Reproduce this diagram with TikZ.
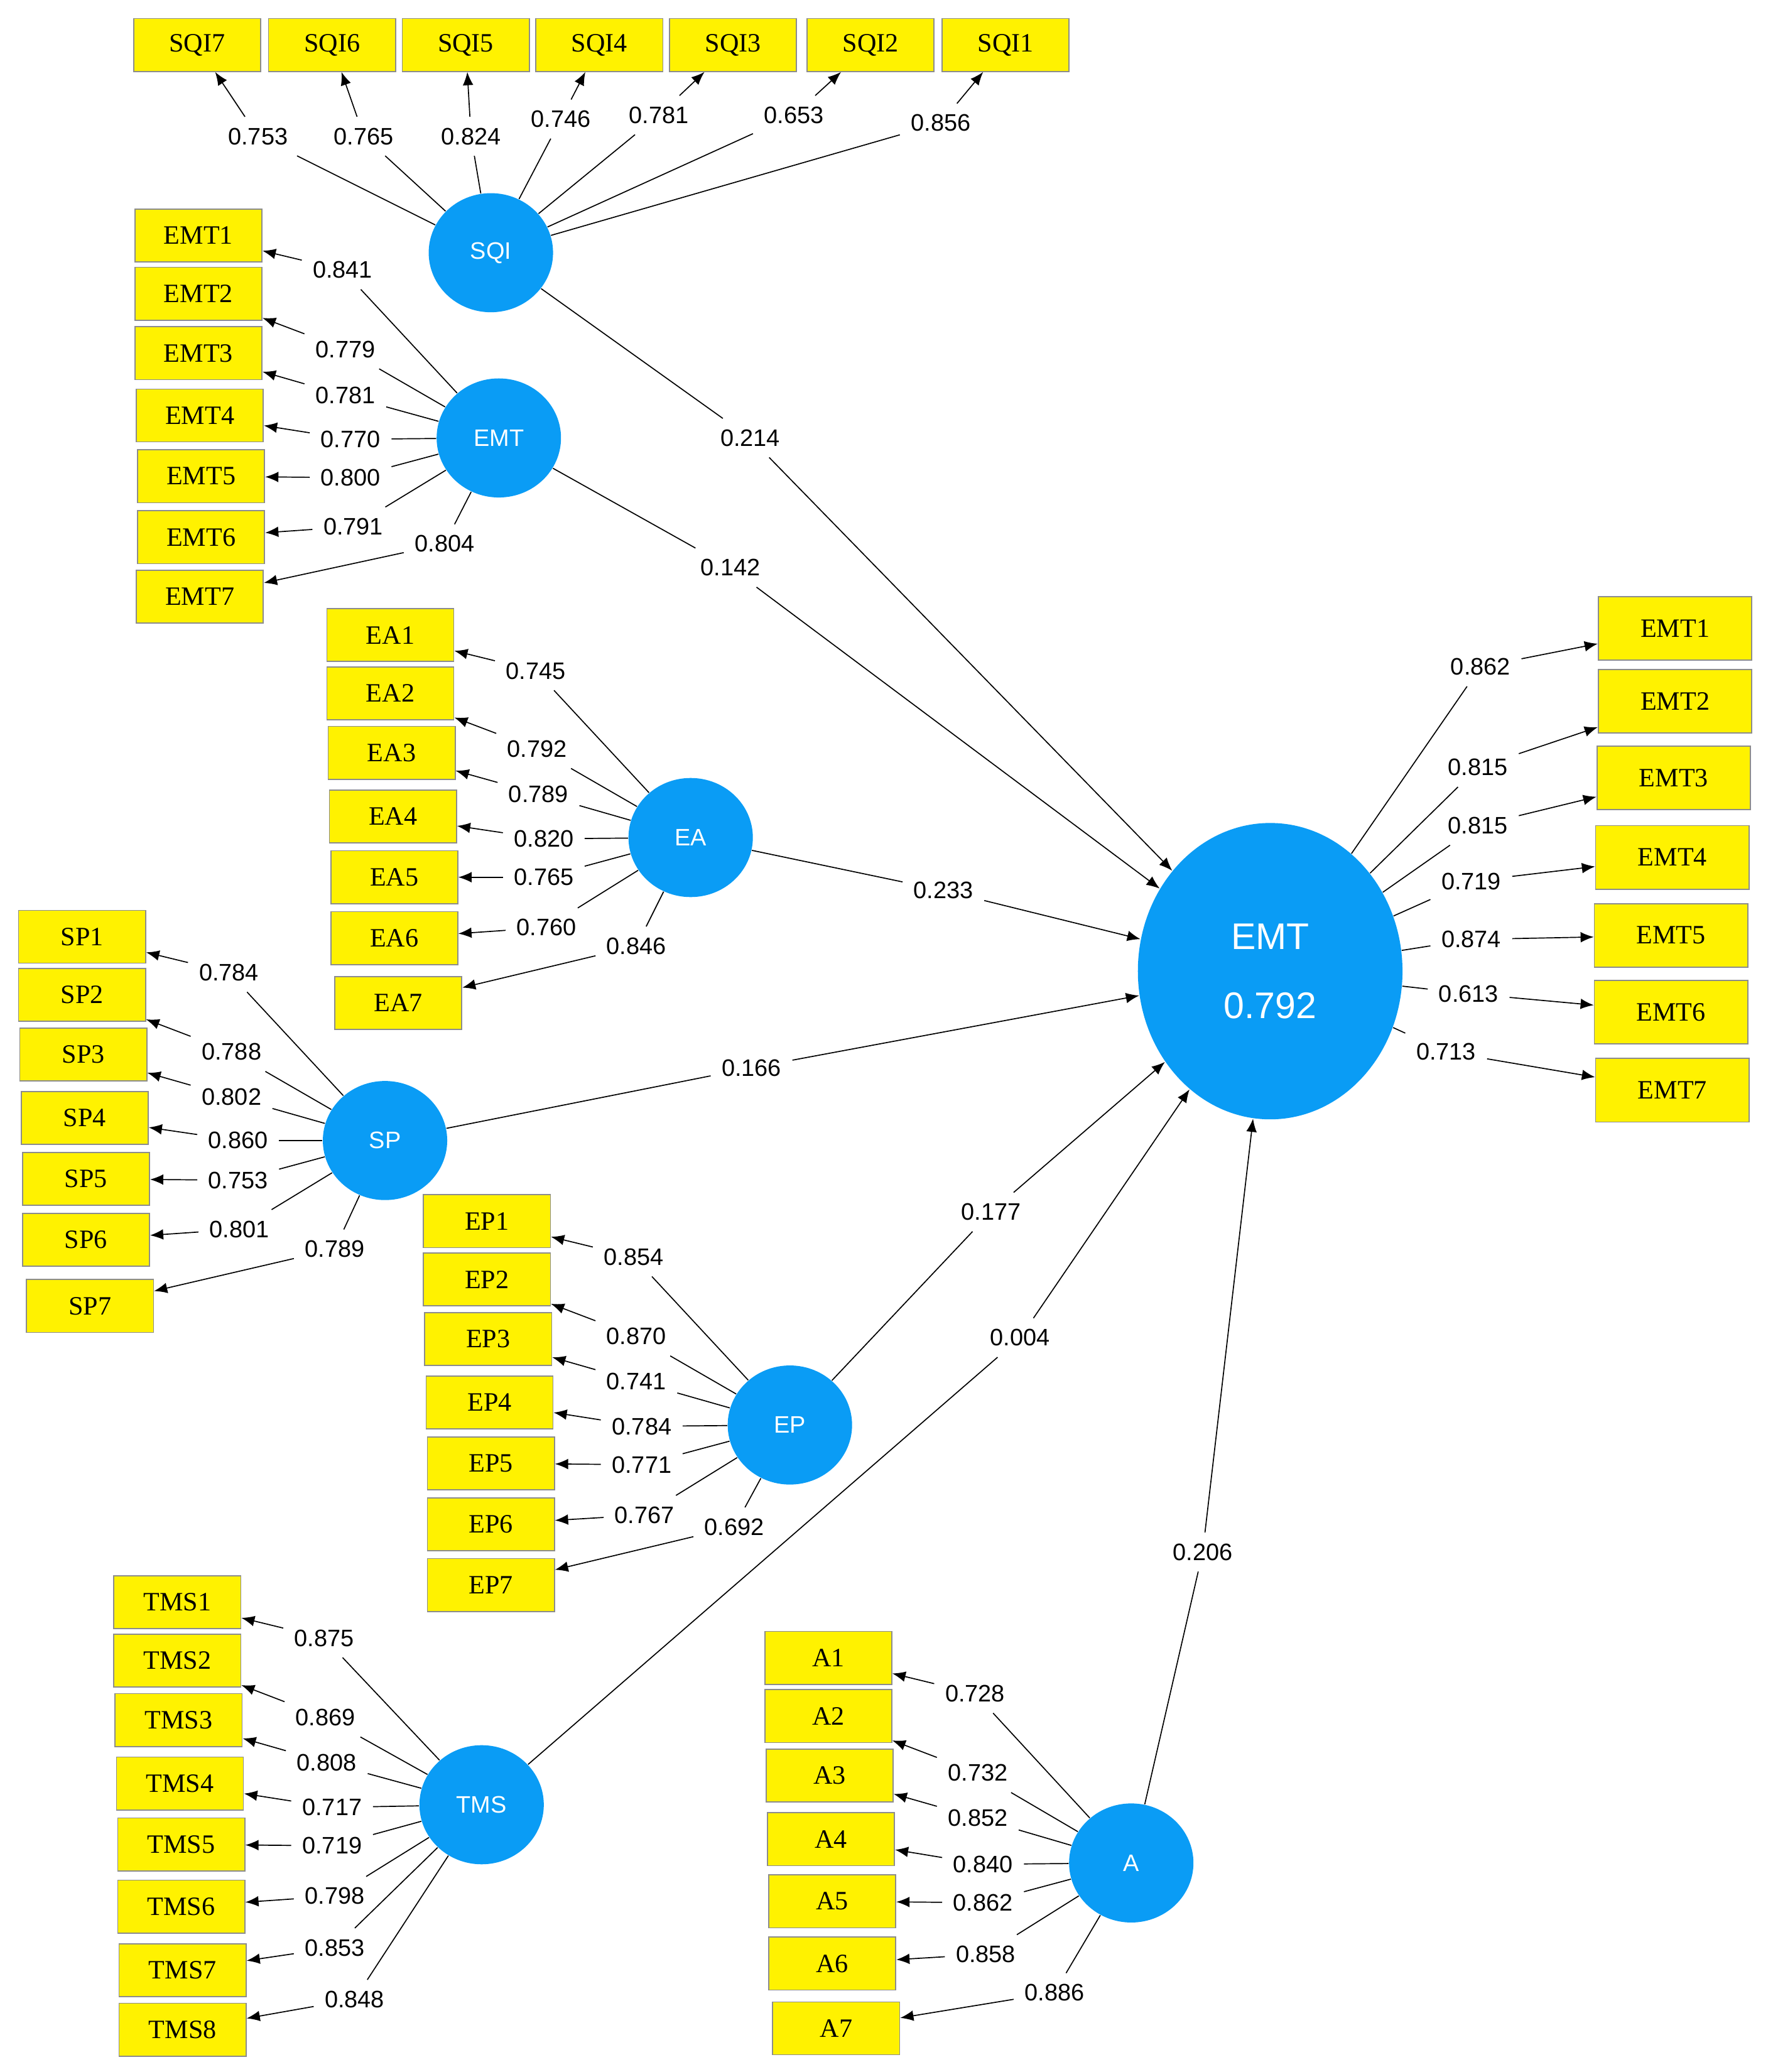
\documentclass[tikz,border=0pt]{standalone}
\usepackage{fontspec}
\setmainfont{Liberation Serif}
\newfontfamily\sansf{Liberation Sans}
\usetikzlibrary{shapes.geometric,arrows.meta}
\definecolor{lv}{HTML}{0A9CF5}
\tikzset{
 box/.style={draw=black!45,fill=yellow,minimum width=48pt,minimum height=20pt,inner sep=1pt,font=\fontsize{10}{12}\selectfont},
 rbox/.style={box,minimum width=58pt,minimum height=24pt},
 lat/.style={ellipse,fill=lv,minimum width=47pt,minimum height=45pt,text=white,font=\sansf\fontsize{9}{11}\selectfont,inner sep=0pt},
 lab/.style={font=\sansf\fontsize{9}{11}\selectfont,inner sep=4pt},
 arr/.style={-{Latex[length=5pt,width=4pt]}},
 every path/.style={line width=0.4pt}
}
\newcommand\indic[7]{%
 \node[#7] (#2) at (#4) {#3};
 \node[lab] (#2l) at (#5) {#6};
 \draw (#1) -- (#2l);
 \draw[arr] (#2l) -- (#2);
}
\newcommand\strpath[4]{%
 \node[lab] (#1l) at (#3) {#4};
 \draw (#1) -- (#1l);
 \draw[arr] (#1l) -- (#2);
}
\begin{document}
\begin{tikzpicture}[x=0.5pt,y=-0.5pt]
\useasboundingbox (0,0) rectangle (1340,1566);
\node[lat] (SQI) at (371,191) {SQI};
\node[lat] (EMTa) at (377,331) {EMT};
\node[lat] (EA) at (522,633) {EA};
\node[lat] (SP) at (291,862) {SP};
\node[lat] (EP) at (597,1077) {EP};
\node[lat] (TMS) at (364,1364) {TMS};
\node[lat] (A) at (855,1408) {A};
\node[ellipse,fill=lv,minimum width=100pt,minimum height=112pt,text=white,font=\sansf\fontsize{14}{26}\selectfont,align=center] (EMT) at (960,734) {EMT\\0.792};
% SQI
\indic{SQI}{q7}{SQI7}{149,34}{195,103}{0.753}{box}
\indic{SQI}{q6}{SQI6}{251,34}{275,103}{0.765}{box}
\indic{SQI}{q5}{SQI5}{352,34}{356,103}{0.824}{box}
\indic{SQI}{q4}{SQI4}{453,34}{424,90}{0.746}{box}
\indic{SQI}{q3}{SQI3}{554,34}{498,87}{0.781}{box}
\indic{SQI}{q2}{SQI2}{658,34}{600,87}{0.653}{box}
\indic{SQI}{q1}{SQI1}{760,34}{711,93}{0.856}{box}
% EMT left
\indic{EMTa}{m1}{EMT1}{150,178}{259,204}{0.841}{box}
\indic{EMTa}{m2}{EMT2}{150,222}{261,264}{0.779}{box}
\indic{EMTa}{m3}{EMT3}{150,267}{261,299}{0.781}{box}
\indic{EMTa}{m4}{EMT4}{151,314}{265,332}{0.770}{box}
\indic{EMTa}{m5}{EMT5}{152,360}{265,361}{0.800}{box}
\indic{EMTa}{m6}{EMT6}{152,406}{267,398}{0.791}{box}
\indic{EMTa}{m7}{EMT7}{151,451}{336,411}{0.804}{box}
% EA
\indic{EA}{a1}{EA1}{295,480}{405,507}{0.745}{box}
\indic{EA}{a2}{EA2}{295,524}{406,566}{0.792}{box}
\indic{EA}{a3}{EA3}{296,569}{407,600}{0.789}{box}
\indic{EA}{a4}{EA4}{297,617}{411,634}{0.820}{box}
\indic{EA}{a5}{EA5}{298,663}{411,663}{0.765}{box}
\indic{EA}{a6}{EA6}{298,709}{413,701}{0.760}{box}
\indic{EA}{a7}{EA7}{301,758}{481,715}{0.846}{box}
% SP
\indic{SP}{s1}{SP1}{62,708}{173,735}{0.784}{box}
\indic{SP}{s2}{SP2}{62,752}{175,795}{0.788}{box}
\indic{SP}{s3}{SP3}{63,797}{175,829}{0.802}{box}
\indic{SP}{s4}{SP4}{64,845}{180,862}{0.860}{box}
\indic{SP}{s5}{SP5}{65,891}{180,892}{0.753}{box}
\indic{SP}{s6}{SP6}{65,937}{181,929}{0.801}{box}
\indic{SP}{s7}{SP7}{68,987}{253,944}{0.789}{box}
% EP
\indic{EP}{e1}{EP1}{368,923}{479,950}{0.854}{box}
\indic{EP}{e2}{EP2}{368,967}{481,1010}{0.870}{box}
\indic{EP}{e3}{EP3}{369,1012}{481,1044}{0.741}{box}
\indic{EP}{e4}{EP4}{370,1060}{485,1078}{0.784}{box}
\indic{EP}{e5}{EP5}{371,1106}{485,1107}{0.771}{box}
\indic{EP}{e6}{EP6}{371,1152}{487,1145}{0.767}{box}
\indic{EP}{e7}{EP7}{371,1198}{555,1154}{0.692}{box}
% TMS
\indic{TMS}{t1}{TMS1}{134,1211}{245,1238}{0.875}{box}
\indic{TMS}{t2}{TMS2}{134,1255}{246,1298}{0.869}{box}
\indic{TMS}{t3}{TMS3}{135,1300}{247,1332}{0.808}{box}
\indic{TMS}{t4}{TMS4}{136,1348}{251,1366}{0.717}{box}
\indic{TMS}{t5}{TMS5}{137,1394}{251,1395}{0.719}{box}
\indic{TMS}{t6}{TMS6}{137,1441}{253,1433}{0.798}{box}
\indic{TMS}{t7}{TMS7}{138,1489}{253,1472}{0.853}{box}
\indic{TMS}{t8}{TMS8}{138,1534}{268,1511}{0.848}{box}
% A
\indic{A}{b1}{A1}{626,1253}{737,1280}{0.728}{box}
\indic{A}{b2}{A2}{626,1297}{739,1340}{0.732}{box}
\indic{A}{b3}{A3}{627,1342}{739,1374}{0.852}{box}
\indic{A}{b4}{A4}{628,1390}{743,1409}{0.840}{box}
\indic{A}{b5}{A5}{629,1437}{743,1438}{0.862}{box}
\indic{A}{b6}{A6}{629,1484}{745,1477}{0.858}{box}
\indic{A}{b7}{A7}{632,1533}{797,1506}{0.886}{box}
% EMT right
\indic{EMT}{r1}{EMT1}{1266,475}{1119,504}{0.862}{rbox}
\indic{EMT}{r2}{EMT2}{1266,530}{1117,580}{0.815}{rbox}
\indic{EMT}{r3}{EMT3}{1265,588}{1117,624}{0.815}{rbox}
\indic{EMT}{r4}{EMT4}{1264,648}{1112,666}{0.719}{rbox}
\indic{EMT}{r5}{EMT5}{1263,707}{1112,710}{0.874}{rbox}
\indic{EMT}{r6}{EMT6}{1263,765}{1110,751}{0.613}{rbox}
\indic{EMT}{r7}{EMT7}{1264,824}{1093,795}{0.713}{rbox}
% structural
\strpath{SQI}{EMT}{567,331}{0.214}
\strpath{EMTa}{EMT}{552,429}{0.142}
\strpath{EA}{EMT}{713,673}{0.233}
\strpath{SP}{EMT}{568,807}{0.166}
\strpath{EP}{EMT}{749,916}{0.177}
\strpath{TMS}{EMT}{771,1011}{0.004}
\strpath{A}{EMT}{909,1173}{0.206}
\end{tikzpicture}
\end{document}
